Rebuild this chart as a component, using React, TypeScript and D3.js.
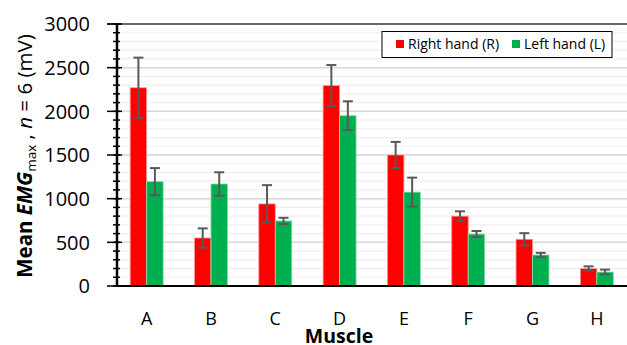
import React from "react";
import * as d3 from "d3";

const muscles = ["A", "B", "C", "D", "E", "F", "G", "H"];
const rightMean = [2270, 550, 940, 2295, 1500, 800, 535, 200];
const rightErr = [345, 110, 215, 235, 150, 55, 70, 25];
const leftMean = [1195, 1168, 745, 1950, 1075, 595, 355, 160];
const leftErr = [155, 134, 36, 165, 166, 35, 25, 28];
const yTicks = [0, 500, 1000, 1500, 2000, 2500, 3000];
const seriesNames = ["Right hand (R)", "Left hand (L)"];
const seriesColors = ["#ff0000", "#00b050"];

const W = 627;
const H = 345;
const axisX = 117;
const margin = { top: 24, right: -2, bottom: 59, left: 114.5 };
const font = "'Open Sans', sans-serif";

export default function App() {
  const x = d3
    .scaleBand()
    .domain(muscles)
    .range([margin.left, W - margin.right])
    .paddingInner(0)
    .paddingOuter(0);

  const inner = d3
    .scaleBand()
    .domain(["R", "L"])
    .range([0, x.bandwidth()])
    .paddingInner(0)
    .paddingOuter(0.95);

  const y = d3
    .scaleLinear()
    .domain([0, 3000])
    .range([H - margin.bottom, margin.top]);

  const minor = d3.range(0, 3001, 100);
  const series = [
    { key: "R", mean: rightMean, err: rightErr, color: seriesColors[0] },
    { key: "L", mean: leftMean, err: leftErr, color: seriesColors[1] },
  ];

  return (
    <svg width={W} height={H} style={{ position: "absolute", left: 0, top: 0 }} fontFamily={font}>
      <rect width={W} height={H} fill="#fff" />
      {/* minor gridlines */}
      {minor.map((v) => (
        <line key={"m" + v} x1={axisX} x2={W} y1={y(v)} y2={y(v)} stroke="#efefef" strokeWidth={1.2} />
      ))}
      {/* major gridlines */}
      {yTicks.map((v) => (
        <line key={"g" + v} x1={axisX} x2={W} y1={y(v)} y2={y(v)} stroke="#d9d9d9" strokeWidth={1.5} />
      ))}
      {/* top border */}
      <line x1={axisX - 10} x2={W} y1={y(3000)} y2={y(3000)} stroke="#404040" strokeWidth={1.5} />

      {/* bars */}
      {series.map((s) =>
        muscles.map((m, i) => (
          <rect
            key={s.key + m}
            x={(x(m) as number) + (inner(s.key) as number)}
            y={y(s.mean[i])}
            width={inner.bandwidth()}
            height={y(0) - y(s.mean[i])}
            fill={s.color}
            stroke={s.key === "R" ? "#ff9a9a" : "#8fdcae"}
            strokeWidth={0.8}
          />
        ))
      )}

      {/* error bars */}
      {series.map((s) =>
        muscles.map((m, i) => {
          const cx = (x(m) as number) + (inner(s.key) as number) + inner.bandwidth() / 2;
          const hi = y(s.mean[i] + s.err[i]);
          const lo = y(s.mean[i] - s.err[i]);
          return (
            <g key={"e" + s.key + m} stroke="#595959" strokeWidth={2}>
              <line x1={cx} x2={cx} y1={hi} y2={lo} />
              <line x1={cx - 5} x2={cx + 5} y1={hi} y2={hi} />
              <line x1={cx - 5} x2={cx + 5} y1={lo} y2={lo} />
            </g>
          );
        })
      )}

      {/* axes */}
      <line x1={axisX} x2={W} y1={y(0)} y2={y(0)} stroke="#000" strokeWidth={2} />
      <line x1={axisX} x2={axisX} y1={y(0)} y2={y(3000)} stroke="#000" strokeWidth={2.5} />
      {minor.map((v) => (
        <line key={"mt" + v} x1={axisX - 4} x2={axisX + 3} y1={y(v)} y2={y(v)} stroke="#000" strokeWidth={1.5} />
      ))}
      {yTicks.map((v) => (
        <g key={"t" + v}>
          <line x1={axisX - 10} x2={axisX + 5} y1={y(v)} y2={y(v)} stroke="#000" strokeWidth={1.5} />
          <text x={axisX - 27} y={y(v)} dy="0.36em" textAnchor="end" fontSize={20} fill="#000">
            {v}
          </text>
        </g>
      ))}
      {muscles.map((m) => (
        <text key={"x" + m} x={(x(m) as number) + x.bandwidth() / 2} y={325} textAnchor="middle" fontSize={18} fill="#000">
          {m}
        </text>
      ))}
      <text x={339} y={343} textAnchor="middle" fontSize={19.5} fontWeight="bold" fill="#000">
        Muscle
      </text>
      <text transform={`translate(32,${(y(0) + y(3000)) / 2 + 1}) rotate(-90)`} textAnchor="middle" fontSize={20.5} fill="#000">
        <tspan fontWeight="bold">Mean </tspan>
        <tspan fontWeight="bold" fontStyle="italic">EMG</tspan>
        <tspan fontSize={13.5} dy={4}>max</tspan>
        <tspan dy={-4}> , </tspan>
        <tspan fontStyle="italic">n</tspan>
        <tspan> = 6 (mV)</tspan>
      </text>

      {/* legend */}
      <g>
        <rect x={382} y={31.5} width={230} height={26} fill="#fff" stroke="#000" strokeWidth={1} />
        {seriesNames.map((n, i) => (
          <g key={n}>
            <rect x={[396, 512][i]} y={40} width={8} height={8} fill={seriesColors[i]} />
            <text x={[408, 524][i]} y={44} dy="0.36em" fontSize={14} fill="#000">
              {n}
            </text>
          </g>
        ))}
      </g>
    </svg>
  );
}
